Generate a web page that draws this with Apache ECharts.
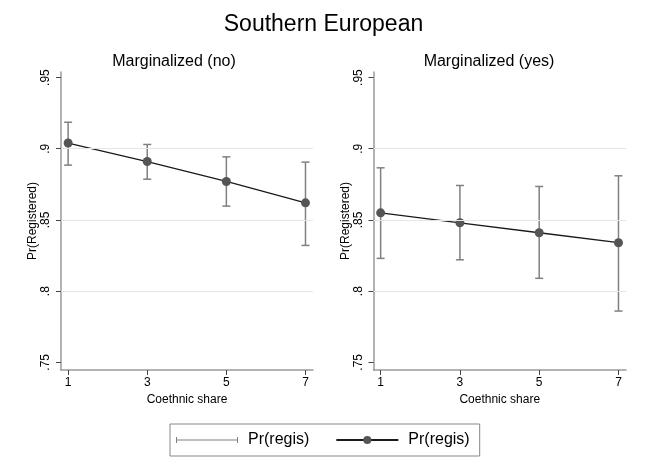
<!DOCTYPE html>
<html><head><meta charset="utf-8">
<script src="https://cdn.jsdelivr.net/npm/echarts@6/dist/echarts.min.js"></script>
<style>html,body{margin:0;padding:0;background:#fff}#c{width:647px;height:472px}</style>
</head><body><div id="c"></div>
<script>
// ---- data ----
const categories = [1, 3, 5, 7];
const yTicks = [0.75, 0.8, 0.85, 0.9, 0.95];
const gridValues = [0.8, 0.85, 0.9];
const panelTitles = ['Marginalized (no)', 'Marginalized (yes)'];
const noEst = [0.904, 0.891, 0.877, 0.862];
const noLo  = [0.8885, 0.8786, 0.8597, 0.8321];
const noHi  = [0.9186, 0.9030, 0.8943, 0.8906];
const yesEst = [0.855, 0.848, 0.841, 0.834];
const yesLo  = [0.823, 0.822, 0.809, 0.786];
const yesHi  = [0.8866, 0.8742, 0.8735, 0.881];
const legendLabel = 'Pr(regis)';

const FONT = 'Liberation Sans, Arial, Helvetica, sans-serif';
const chart = echarts.init(document.getElementById('c'), null, {renderer: 'canvas'});

function errItem(params, api) {
  const x = api.value(0), lo = api.value(1), hi = api.value(2);
  const p1 = api.coord([x, lo]), p2 = api.coord([x, hi]);
  const w = 4;
  const style = {stroke: '#808080', lineWidth: 1.5};
  return {type: 'group', children: [
    {type: 'line', shape: {x1: p1[0], y1: p1[1], x2: p2[0], y2: p2[1]}, style: style},
    {type: 'line', shape: {x1: p1[0] - w, y1: p1[1], x2: p1[0] + w, y2: p1[1]}, style: style},
    {type: 'line', shape: {x1: p2[0] - w, y1: p2[1], x2: p2[0] + w, y2: p2[1]}, style: style}
  ]};
}

const grids = [
  {left: 61, top: 72, width: 252, height: 298},
  {left: 373.5, top: 72, width: 252.5, height: 298}
];
const xAxes = [], yAxes = [], series = [];
const panels = [[noEst, noLo, noHi], [yesEst, yesLo, yesHi]];
panels.forEach((p, i) => {
  xAxes.push({
    type: 'value', gridIndex: i, min: 0.82, max: 7.19,
    name: 'Coethnic share', nameLocation: 'middle', nameGap: 20,
    nameTextStyle: {fontFamily: FONT, fontSize: 12, color: '#000'},
    axisLine: {show: true, lineStyle: {color: '#9a9a9a', width: 1.5}},
    axisTick: {show: true, customValues: categories, length: 5, lineStyle: {color: '#444', width: 1}},
    axisLabel: {customValues: categories, margin: 7, fontFamily: FONT, fontSize: 12, color: '#000'},
    splitLine: {show: false}
  });
  yAxes.push({
    type: 'value', gridIndex: i, min: 0.7446, max: 0.9539,
    name: 'Pr(Registered)', nameLocation: 'middle', nameGap: 22, nameRotate: 90,
    nameTextStyle: {fontFamily: FONT, fontSize: 12, color: '#000'},
    axisLine: {show: true, lineStyle: {color: '#9a9a9a', width: 1.5}},
    axisTick: {show: true, customValues: yTicks, length: 5, lineStyle: {color: '#444', width: 1}},
    axisLabel: {customValues: yTicks, rotate: 90, margin: 9, fontFamily: FONT, fontSize: 12, color: '#000',
      formatter: v => String(+v.toFixed(2)).replace(/^0\./, '.')},
    splitLine: {show: false}
  });
  series.push({
    type: 'line', xAxisIndex: i, yAxisIndex: i, data: [], z: 1, silent: true,
    markLine: {silent: true, symbol: 'none', label: {show: false},
      lineStyle: {color: '#e6e6e6', type: 'solid', width: 1},
      data: gridValues.map(v => ({yAxis: v}))}
  });
  series.push({
    type: 'custom', name: 'Pr(regis) CI', xAxisIndex: i, yAxisIndex: i, z: 3,
    renderItem: errItem, encode: {x: 0, y: [1, 2]},
    itemStyle: {color: '#808080'},
    data: categories.map((c, k) => [c, p[1][k], p[2][k]])
  });
  series.push({
    type: 'line', name: 'Pr(regis) est', xAxisIndex: i, yAxisIndex: i, z: 4,
    symbol: 'circle', symbolSize: 9,
    itemStyle: {color: '#555555'},
    lineStyle: {color: '#1a1a1a', width: 1.3},
    data: categories.map((c, k) => [c, p[0][k]])
  });
});

chart.setOption({
  backgroundColor: '#fff',
  animation: false,
  title: [
    {text: 'Southern European', left: 'center', top: 8, textStyle: {fontFamily: FONT, fontSize: 23, fontWeight: 'normal', color: '#000'}},
    {text: panelTitles[0], left: 169, textAlign: 'center', top: 49, textStyle: {fontFamily: FONT, fontSize: 16, fontWeight: 'normal', color: '#000'}},
    {text: panelTitles[1], left: 484, textAlign: 'center', top: 49, textStyle: {fontFamily: FONT, fontSize: 16, fontWeight: 'normal', color: '#000'}}
  ],
  legend: {
    left: 170, top: 424, orient: 'horizontal', selectedMode: false,
    padding: [8, 10, 8, 6], itemGap: 26, itemWidth: 62, itemHeight: 10,
    borderColor: '#888', borderWidth: 1,
    textStyle: {fontFamily: FONT, fontSize: 16, color: '#000', padding: [0, 0, 0, 5]},
    formatter: () => legendLabel,
    data: [
      {name: 'Pr(regis) CI', icon: 'path://M0,2h1v6h-1z M0,4.5h62v1h-62z M61,2h1v6h-1z', itemStyle: {color: '#808080'}},
      {name: 'Pr(regis) est'}
    ]
  },
  grid: grids,
  xAxis: xAxes,
  yAxis: yAxes,
  series: series
});
</script></body></html>
